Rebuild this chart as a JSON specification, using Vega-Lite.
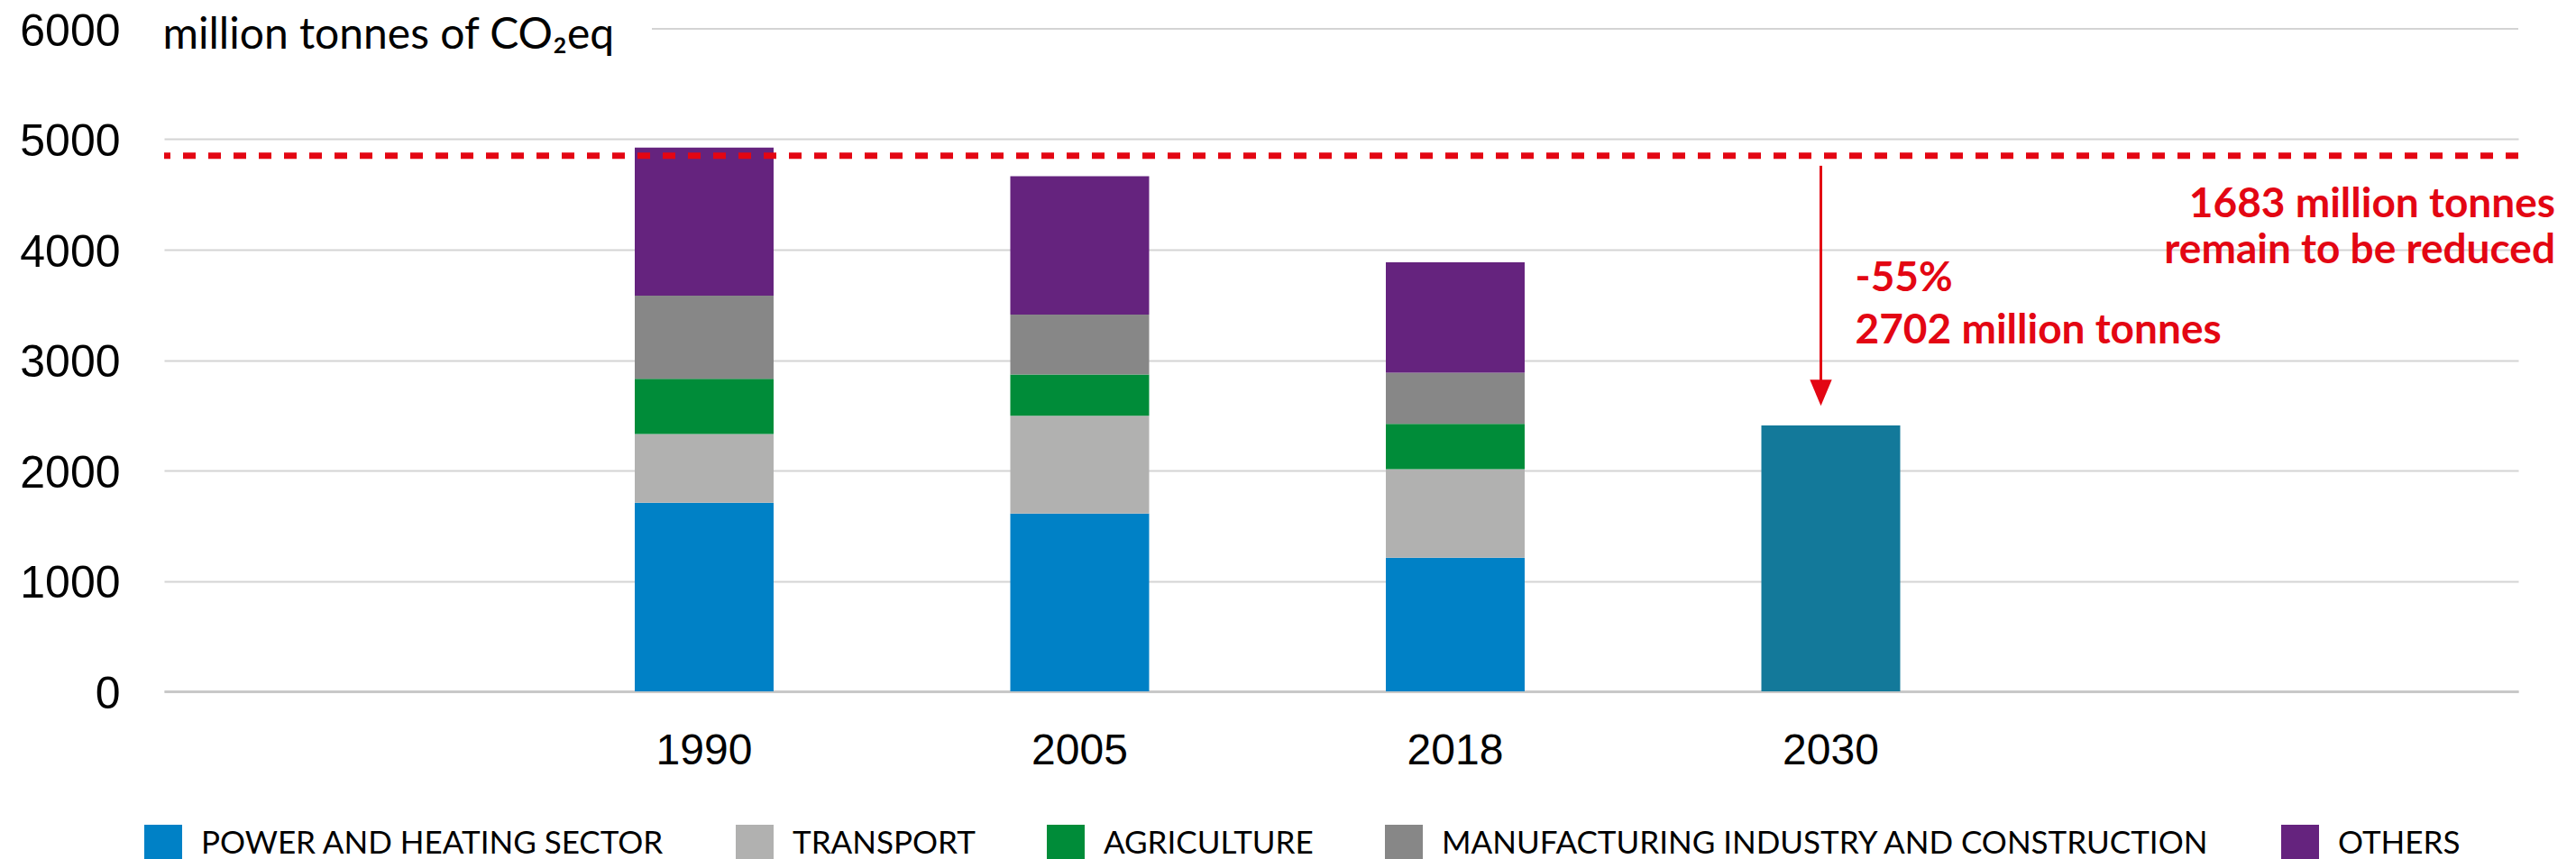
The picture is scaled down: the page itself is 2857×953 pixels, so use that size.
{
  "$schema": "https://vega.github.io/schema/vega-lite/v6.json",
  "width": 2611,
  "height": 735,
  "autosize": {"type": "none"},
  "padding": {"left": 182, "top": 32, "right": 64, "bottom": 186},
  "background": "white",
  "config": {"view": {"stroke": null}},
  "layer": [
    {
      "data": {"values": [
        {"year": "1990", "sector": "POWER AND HEATING SECTOR", "ord": 1, "value": 1709},
        {"year": "1990", "sector": "TRANSPORT", "ord": 2, "value": 622},
        {"year": "1990", "sector": "AGRICULTURE", "ord": 3, "value": 499},
        {"year": "1990", "sector": "MANUFACTURING INDUSTRY AND CONSTRUCTION", "ord": 4, "value": 753},
        {"year": "1990", "sector": "OTHERS", "ord": 5, "value": 1341},
        {"year": "2005", "sector": "POWER AND HEATING SECTOR", "ord": 1, "value": 1611},
        {"year": "2005", "sector": "TRANSPORT", "ord": 2, "value": 884},
        {"year": "2005", "sector": "AGRICULTURE", "ord": 3, "value": 375},
        {"year": "2005", "sector": "MANUFACTURING INDUSTRY AND CONSTRUCTION", "ord": 4, "value": 542},
        {"year": "2005", "sector": "OTHERS", "ord": 5, "value": 1253},
        {"year": "2018", "sector": "POWER AND HEATING SECTOR", "ord": 1, "value": 1210},
        {"year": "2018", "sector": "TRANSPORT", "ord": 2, "value": 802},
        {"year": "2018", "sector": "AGRICULTURE", "ord": 3, "value": 411},
        {"year": "2018", "sector": "MANUFACTURING INDUSTRY AND CONSTRUCTION", "ord": 4, "value": 463},
        {"year": "2018", "sector": "OTHERS", "ord": 5, "value": 1000},
        {"year": "2030", "sector": "TARGET 2030", "ord": 1, "value": 2409}
      ]},
      "mark": {"type": "bar"},
      "encoding": {
        "x": {
          "field": "year", "type": "nominal",
          "scale": {"domain": ["pad1", "1990", "2005", "2018", "2030", "pad2"], "paddingInner": 0.6303, "paddingOuter": 0.4496, "align": 0.2817},
          "axis": {
            "values": ["1990", "2005", "2018", "2030"],
            "title": null, "labelAngle": 0, "labelFont": "Liberation Sans", "labelFontSize": 48,
            "labelColor": "#000000", "labelPadding": 42, "ticks": false, "tickSize": 0,
            "domainColor": "#c8c8c8", "domainWidth": 3, "grid": false
          }
        },
        "y": {
          "field": "value", "type": "quantitative", "stack": "zero",
          "scale": {"domain": [0, 6000], "nice": false},
          "axis": {
            "values": [0, 1000, 2000, 3000, 4000, 5000, 6000], "format": "d",
            "labelFont": "Liberation Sans", "labelFontSize": 50, "labelColor": "#000000",
            "labelPadding": 49, "labelOffset": 3, "ticks": false, "tickSize": 0, "domain": false,
            "grid": true, "gridColor": "#d4d4d4", "gridWidth": 2,
            "gridOpacity": {"condition": {"test": "datum.value == 6000", "value": 0}, "value": 1},
            "title": "million tonnes of CO₂eq", "titleAngle": 0, "titleAlign": "left",
            "titleBaseline": "alphabetic", "titleX": -2, "titleY": 21,
            "titleFont": "Lato", "titleFontSize": 48, "titleFontWeight": "normal", "titleColor": "#000000"
          }
        },
        "order": {"field": "ord", "type": "quantitative"},
        "color": {
          "field": "sector", "type": "nominal",
          "scale": {
            "domain": ["POWER AND HEATING SECTOR", "TRANSPORT", "AGRICULTURE", "MANUFACTURING INDUSTRY AND CONSTRUCTION", "OTHERS", "TARGET 2030"],
            "range": ["#0081C6", "#B1B1B0", "#008C39", "#878787", "#65237E", "#13799A"]
          },
          "legend": {
            "values": ["POWER AND HEATING SECTOR", "TRANSPORT", "AGRICULTURE", "MANUFACTURING INDUSTRY AND CONSTRUCTION", "OTHERS"],
            "title": null, "orient": "none", "legendX": -22, "legendY": 883,
            "direction": "horizontal", "columns": 5, "columnPadding": 79,
            "symbolType": "square", "symbolSize": 1764, "symbolStrokeWidth": 0, "symbolOpacity": 1,
            "labelFont": "Lato", "labelFontSize": 35, "labelColor": "#000000", "labelOffset": 21, "labelLimit": 0
          }
        }
      }
    },
    {
      "data": {"values": [{"year": "1990", "v": 6000}]},
      "mark": {"type": "rule", "color": "#d4d4d4", "strokeWidth": 2, "xOffset": 19},
      "encoding": {
        "x": {"field": "year", "type": "nominal", "bandPosition": 0},
        "x2": {"value": "width"},
        "y": {"field": "v", "type": "quantitative"}
      }
    },
    {
      "data": {"values": [{"v": 4852}]},
      "mark": {"type": "rule", "color": "#E30613", "strokeWidth": 7, "strokeDash": [14, 14]},
      "encoding": {"y": {"field": "v", "type": "quantitative"}}
    },
    {
      "data": {"values": [{"year": "2030", "from": 4760, "to": 2800}]},
      "mark": {"type": "rule", "color": "#E30613", "strokeWidth": 3, "xOffset": -11},
      "encoding": {
        "x": {"field": "year", "type": "nominal"},
        "y": {"field": "from", "type": "quantitative"},
        "y2": {"field": "to"}
      }
    },
    {
      "data": {"values": [{"year": "2030", "v": 2705}]},
      "mark": {"type": "point", "shape": "M-0.84,-1L0.84,-1L0,1Z", "size": 841, "filled": true, "color": "#E30613", "opacity": 1, "xOffset": -11},
      "encoding": {
        "x": {"field": "year", "type": "nominal"},
        "y": {"field": "v", "type": "quantitative"}
      }
    },
    {
      "data": {"values": [
        {"year": "2030", "t": "-55%", "v": 3625},
        {"year": "2030", "t": "2702 million tonnes", "v": 3151}
      ]},
      "mark": {"type": "text", "align": "left", "baseline": "alphabetic", "dx": 27, "font": "Lato", "fontSize": 46, "fontWeight": "bold", "color": "#E30613"},
      "encoding": {
        "x": {"field": "year", "type": "nominal"},
        "y": {"field": "v", "type": "quantitative"},
        "text": {"field": "t"}
      }
    },
    {
      "data": {"values": [
        {"t": "1683 million tonnes", "v": 4296},
        {"t": "remain to be reduced", "v": 3879}
      ]},
      "mark": {"type": "text", "align": "right", "baseline": "alphabetic", "dx": 41, "font": "Lato", "fontSize": 46, "fontWeight": "bold", "color": "#E30613"},
      "encoding": {
        "x": {"value": "width"},
        "y": {"field": "v", "type": "quantitative"},
        "text": {"field": "t"}
      }
    }
  ]
}
